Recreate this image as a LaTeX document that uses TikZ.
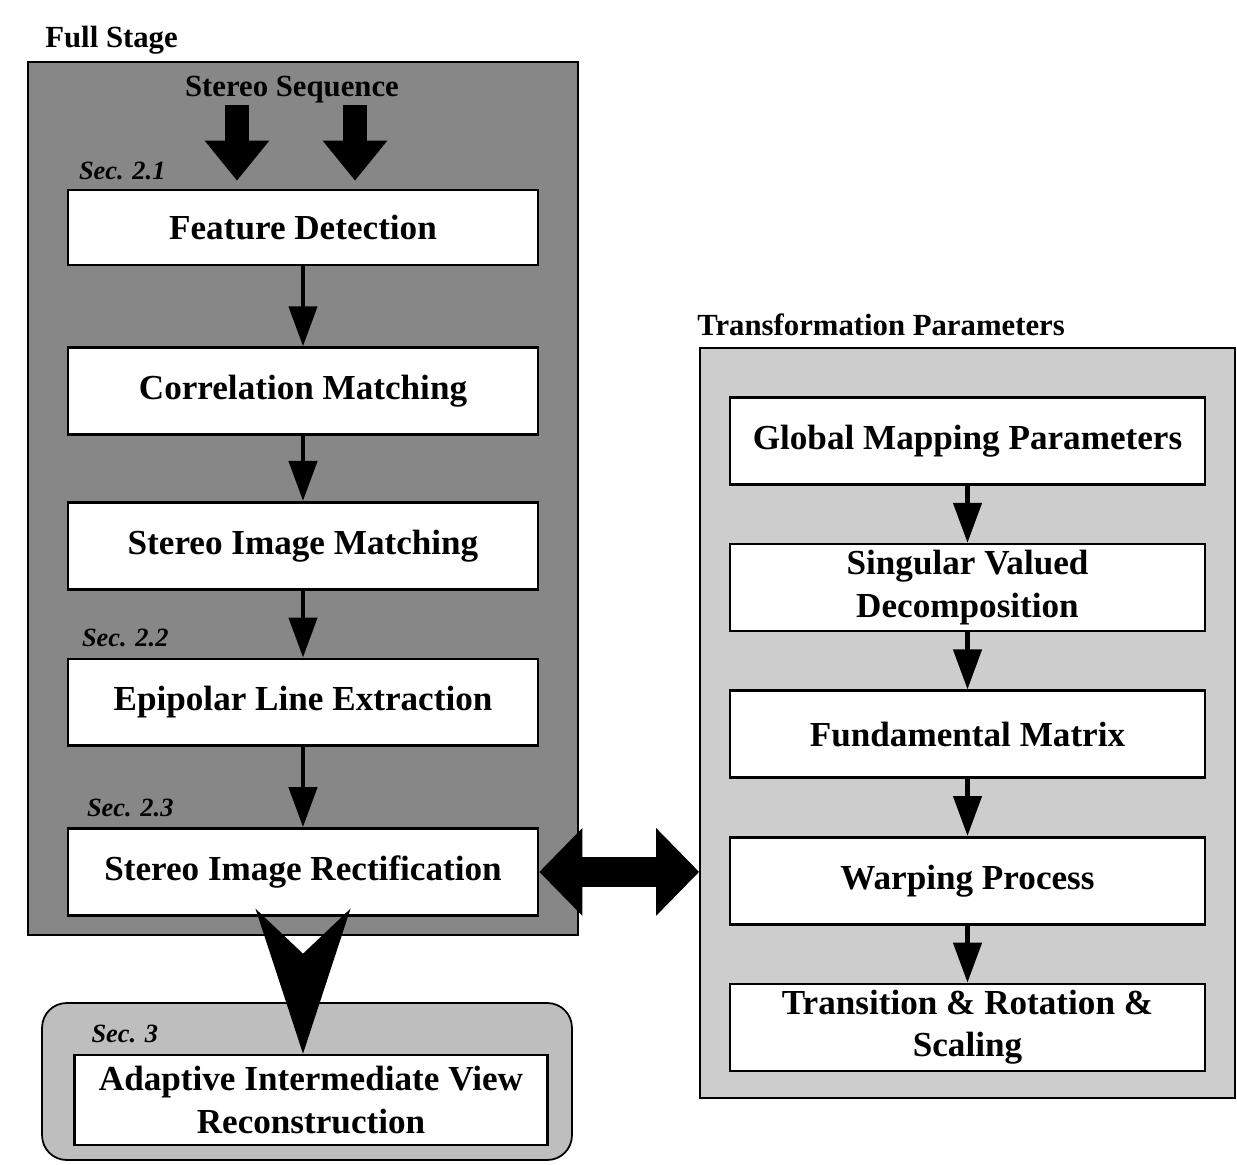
\documentclass[tikz,border=0pt]{standalone}
\usepackage{fontspec}
\setmainfont{Liberation Serif}
\usetikzlibrary{arrows.meta,positioning}
\definecolor{fsGray}{HTML}{878787}
\definecolor{tpGray}{HTML}{CDCDCD}
\definecolor{avGray}{HTML}{BEBEBE}
\tikzset{
  box/.style={
    rectangle,
    draw=black,
    line width=1.5pt,
    fill=white,
    align=center,
    font=\fontsize{20}{24}\selectfont\bfseries,
    minimum width=9.4cm,
    minimum height=1.74cm,
    inner sep=0pt
  },
  rbox/.style={box, minimum width=9.5cm},
  panel/.style={rectangle, draw=black, line width=1pt, inner sep=0pt},
  title/.style={font=\fontsize{17.5}{20}\selectfont\bfseries, inner sep=0pt},
  seclabel/.style={font=\fontsize{15}{18}\selectfont\bfseries\itshape, inner sep=0pt},
  arrow/.style={-{Triangle[length=0.8cm,width=0.56cm]}, line width=2.6pt},
  fatarrow/.style={-{Triangle[length=0.8cm,width=1.24cm]}, line width=0.48cm},
  dblarrow/.style={{Triangle[length=0.86cm,width=1.7cm]}-{Triangle[length=0.86cm,width=1.7cm]}, line width=0.6cm},
  bigarrow/.style={-{Stealth[length=2.9cm,width=1.9cm,inset=0.9cm]}, line width=1pt, shorten <=1.1cm}
}

\begin{document}
\begin{tikzpicture}[x=0.02cm, y=-0.02cm, node distance=1.3cm]
  \useasboundingbox (0,0) rectangle (1237,1165);

  % panels and titles
  \node[panel, fill=fsGray, minimum width=11cm, minimum height=17.46cm] (full) at (303,498.5) {};
  \node[panel, fill=tpGray, minimum width=10.7cm, minimum height=15cm] (tpanel) at (967.5,723) {};
  \node[panel, fill=avGray, rounded corners=14pt, minimum width=10.6cm, minimum height=3.14cm] (avpanel) at (307,1081.5) {};
  \node[title, anchor=west] (fulltitle) at (45,40) {Full Stage};
  \node[title, anchor=west] (tptitle) at (697,325) {Transformation Parameters};
  \node[title] (stereo) at (292,90) {Stereo Sequence};

  % full stage
  \node[box, minimum height=1.5cm] (fdet) at (303,227.5) {Feature Detection};
  \node[box, below=1.6cm of fdet] (corr) {Correlation Matching};
  \node[box, below=1.3cm of corr] (smatch) {Stereo Image Matching};
  \node[box, below=1.34cm of smatch] (epi) {Epipolar Line Extraction};
  \node[box, below=1.6cm of epi] (rect) {Stereo Image Rectification};
  \node[box, minimum width=9.46cm, minimum height=1.8cm] (recon) at (311,1100) {Adaptive Intermediate View\\Reconstruction};

  \node[seclabel, above right=0.16cm and 0.24cm of fdet.north west] (sec21) {Sec. 2.1};
  \node[seclabel, above right=0.2cm and 0.3cm of epi.north west] (sec22) {Sec. 2.2};
  \node[seclabel, above right=0.2cm and 0.4cm of rect.north west] (sec23) {Sec. 2.3};
  \node[seclabel, above right=0.2cm and 0.36cm of recon.north west] (sec3) {Sec. 3};

  % transformation parameters
  \node[rbox] (gmp) at (967.5,441) {Global Mapping Parameters};
  \node[rbox, below=1.14cm of gmp] (svd) {Singular Valued\\Decomposition};
  \node[rbox, below=1.14cm of svd] (fmat) {Fundamental Matrix};
  \node[rbox, below=1.14cm of fmat] (warp) {Warping Process};
  \node[rbox, below=1.14cm of warp] (trs) {Transition \& Rotation \&\\Scaling};

  % connectors
  \coordinate (in1) at (237,105);
  \coordinate (in2) at (355,105);
  \draw[fatarrow, shorten >=0.16cm] (in1) -- (in1 |- fdet.north);
  \draw[fatarrow, shorten >=0.16cm] (in2) -- (in2 |- fdet.north);
  \foreach \a/\b in {fdet/corr, corr/smatch, smatch/epi, epi/rect, gmp/svd, svd/fmat, fmat/warp, warp/trs}
    \draw[arrow] (\a) -- (\b);
  \draw[dblarrow] (rect.east) -- (rect.east -| tpanel.west);
  \draw[bigarrow] (rect.south) -- (rect.south |- recon.north);
\end{tikzpicture}
\end{document}
